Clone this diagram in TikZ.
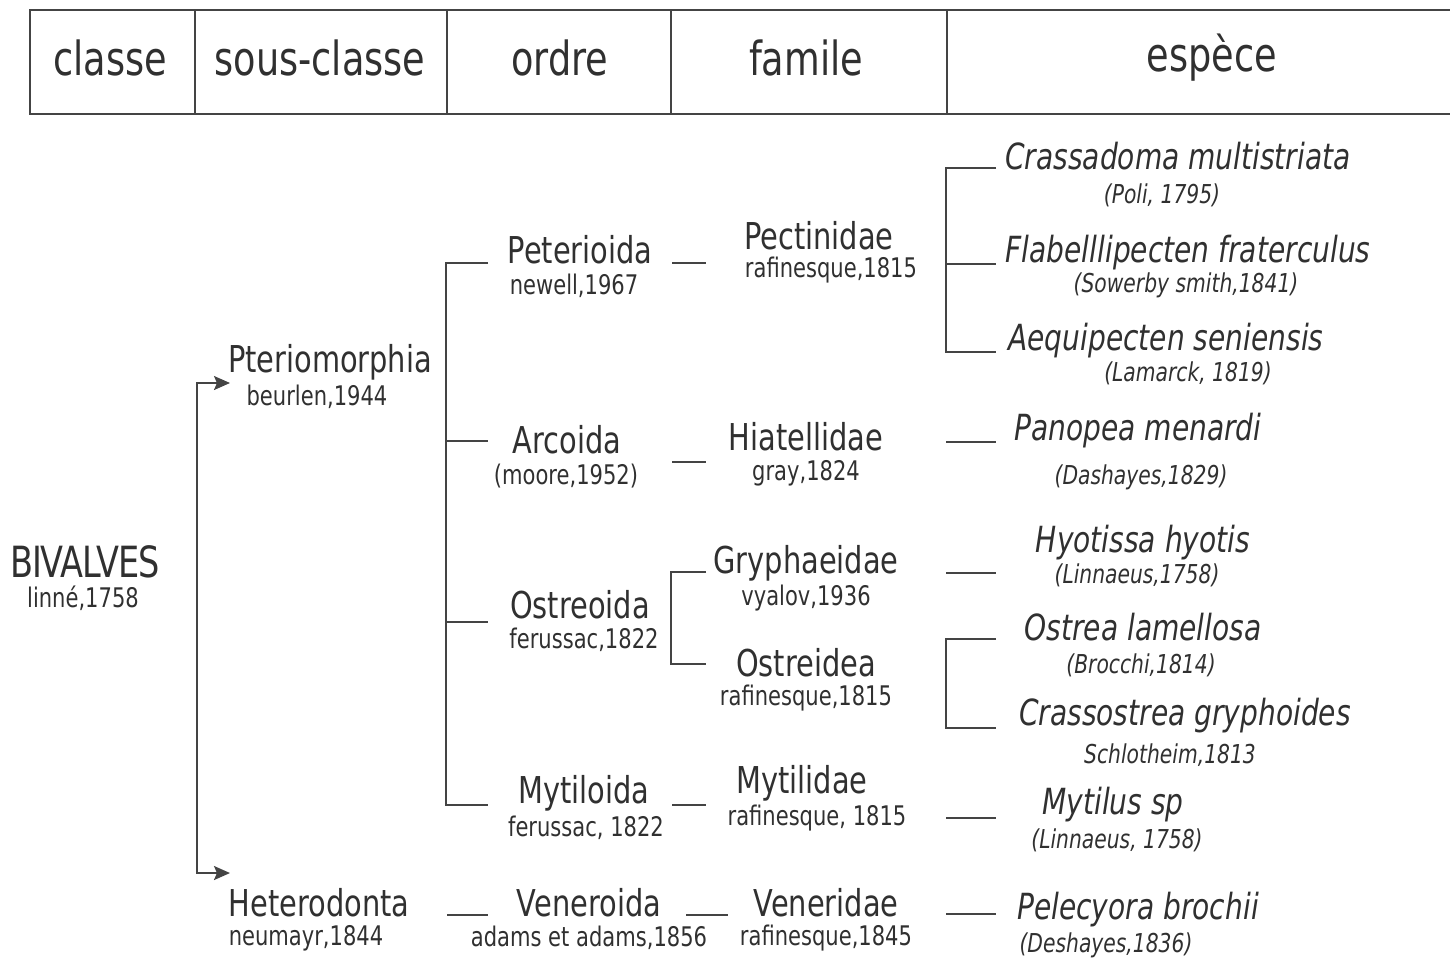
\documentclass[tikz,border=0pt]{standalone}
\usepackage{fontspec}
\setmainfont{DejaVu Sans}[FakeStretch=0.78]
\usetikzlibrary{arrows.meta}
\definecolor{textc}{HTML}{303030}
\definecolor{linec}{HTML}{444444}
\begin{document}
\begin{tikzpicture}[x=0.5pt,y=-0.5pt,
  every node/.style={inner sep=0pt,text=textc},
  hd/.style={font=\fontsize{23.5}{26}\selectfont},
  nm/.style={font=\fontsize{18.5}{20}\selectfont},
  au/.style={font=\fontsize{13.5}{15}\selectfont},
  sp/.style={font=\fontsize{18}{20}\selectfont\itshape},
  sa/.style={font=\fontsize{13}{15}\selectfont\itshape},
  ln/.style={draw=linec,line width=1pt},
  arr/.style={ln,-{Stealth[length=8pt,width=7pt,inset=1.5pt]}}]
\useasboundingbox (0,0) rectangle (1450,960);
% header table
\draw[ln] (1450,10) -- (30,10) -- (30,114) -- (1450,114);
\foreach \x in {195,447,671,947} \draw[ln] (\x,10) -- (\x,114);
\node[hd] (h1) at (110,58) {classe};
\node[hd] (h2) at (320,58) {sous-classe};
\node[hd] (h3) at (560,58) {ordre};
\node[hd] (h4) at (806,58) {famile};
\node[hd] (h5) at (1212,58) {espèce};
% classe
\node[font=\fontsize{21.5}{24}\selectfont\addfontfeatures{LetterSpace=-2.5}] (biv) at (85,562) {BIVALVES};
\node[au] (bivA) at (83,598) {linné,1758};
% sous-classe
\node[nm] (pter) at (330,362) {Pteriomorphia};
\node[au] (pterA) at (317,397) {beurlen,1944};
\node[nm] (het) at (319,903) {Heterodonta};
\node[au] (hetA) at (306,938) {neumayr,1844};
\coordinate (s0) at (197,383);
\coordinate (s1) at (230,383);
\coordinate (s2) at (197,873);
\coordinate (s3) at (230,873);
\draw[arr] (s2) -- (s0) -- (s1);
\draw[arr] (s0) -- (s2) -- (s3);
% ordre
\node[nm] (pet) at (580,250) {Peterioida};
\node[au] (petA) at (574,286) {newell,1967};
\node[nm] (arc) at (567,440) {Arcoida};
\node[au] (arcA) at (566,476) {(moore,1952)};
\node[nm] (ost) at (580,605) {Ostreoida};
\node[au] (ostA) at (584,640) {ferussac,1822};
\node[nm] (myt) at (584,793) {Mytiloida};
\node[au] (mytA) at (586,828) {ferussac, 1822};
\node[nm] (ven) at (589,903) {Veneroida};
\node[au] (venA) at (589,938) {adams et adams,1856};
\coordinate (o1) at (446,263); \coordinate (o1e) at (488,263);
\coordinate (o2) at (446,441); \coordinate (o2e) at (488,441);
\coordinate (o3) at (446,622); \coordinate (o3e) at (488,622);
\coordinate (o4) at (446,805); \coordinate (o4e) at (488,805);
\draw[ln] (o1e) -- (o1) -- (o4) -- (o4e);
\draw[ln] (o2) -- (o2e);
\draw[ln] (o3) -- (o3e);
\coordinate (hv1) at (447,915); \coordinate (hv2) at (488,915);
\draw[ln] (hv1) -- (hv2);
% famille
\node[nm] (pec) at (819,236) {Pectinidae};
\node[au] (pecA) at (831,270) {rafinesque,1815};
\node[nm] (hia) at (806,437) {Hiatellidae};
\node[au] (hiaA) at (806,473) {gray,1824};
\node[nm] (gry) at (806,563) {Gryphaeidae};
\node[au] (gryA) at (806,598) {vyalov,1936};
\node[nm] (ostr) at (806,663) {Ostreidea};
\node[au] (ostrA) at (806,698) {rafinesque,1815};
\node[nm] (mytl) at (802,783) {Mytilidae};
\node[au] (mytlA) at (817,818) {rafinesque, 1815};
\node[nm] (vend) at (826,903) {Veneridae};
\node[au] (vendA) at (826,938) {rafinesque,1845};
\coordinate (f1a) at (672,263); \coordinate (f1b) at (706,263);
\coordinate (f2a) at (672,462); \coordinate (f2b) at (706,462);
\coordinate (f3a) at (671,572); \coordinate (f3b) at (706,572);
\coordinate (f4a) at (671,664); \coordinate (f4b) at (706,664);
\coordinate (f5a) at (672,805); \coordinate (f5b) at (706,805);
\coordinate (f6a) at (686,915); \coordinate (f6b) at (728,915);
\draw[ln] (f1a) -- (f1b);
\draw[ln] (f2a) -- (f2b);
\draw[ln] (f3b) -- (f3a) -- (f4a) -- (f4b);
\draw[ln] (f5a) -- (f5b);
\draw[ln] (f6a) -- (f6b);
% especes
\node[sp] (e1) at (1178,156) {Crassadoma multistriata};
\node[sa] (e1A) at (1162,195) {(Poli, 1795)};
\node[sp] (e2) at (1188,253) {Flabelllipecten fraterculus};
\node[sa] (e2A) at (1186,285) {(Sowerby smith,1841)};
\node[sp] (e3) at (1166,341) {Aequipecten seniensis};
\node[sa] (e3A) at (1188,373) {(Lamarck, 1819)};
\node[sp] (e4) at (1138,431) {Panopea menardi};
\node[sa] (e4A) at (1141,477) {(Dashayes,1829)};
\node[sp] (e5) at (1143,543) {Hyotissa hyotis};
\node[sa] (e5A) at (1137,575) {(Linnaeus,1758)};
\node[sp] (e6) at (1143,627) {Ostrea lamellosa};
\node[sa] (e6A) at (1141,665) {(Brocchi,1814)};
\node[sp] (e7) at (1185,716) {Crassostrea gryphoides};
\node[sa] (e7A) at (1170,755) {Schlotheim,1813};
\node[sp] (e8) at (1113,805) {Mytilus sp};
\node[sa] (e8A) at (1117,840) {(Linnaeus, 1758)};
\node[sp] (e9) at (1138,910) {Pelecyora brochii};
\node[sa] (e9A) at (1106,945) {(Deshayes,1836)};
\coordinate (g1) at (946,168); \coordinate (g1e) at (996,168);
\coordinate (g2) at (946,264); \coordinate (g2e) at (996,264);
\coordinate (g3) at (946,352); \coordinate (g3e) at (996,352);
\draw[ln] (g1e) -- (g1) -- (g3) -- (g3e);
\draw[ln] (g2) -- (g2e);
\coordinate (g4) at (946,442); \coordinate (g4e) at (996,442);
\draw[ln] (g4) -- (g4e);
\coordinate (g5) at (946,573); \coordinate (g5e) at (996,573);
\draw[ln] (g5) -- (g5e);
\coordinate (g6) at (946,639); \coordinate (g6e) at (996,639);
\coordinate (g7) at (946,728); \coordinate (g7e) at (996,728);
\draw[ln] (g6e) -- (g6) -- (g7) -- (g7e);
\coordinate (g8) at (946,818); \coordinate (g8e) at (996,818);
\draw[ln] (g8) -- (g8e);
\coordinate (g9) at (946,914); \coordinate (g9e) at (996,914);
\draw[ln] (g9) -- (g9e);
\end{tikzpicture}
\end{document}
